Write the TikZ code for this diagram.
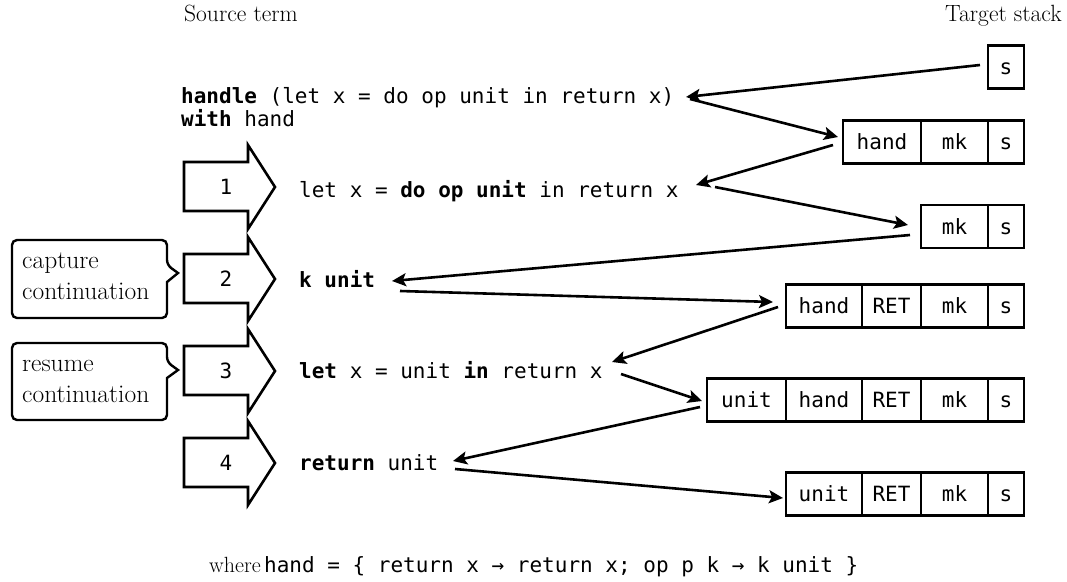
\documentclass[tikz,border=0pt]{standalone}
\usepackage{fontspec}
\setmonofont{DejaVu Sans Mono}
\usetikzlibrary{arrows.meta,calc}
\begin{document}
\begin{tikzpicture}[x=1pt,y=-1pt,
  mono/.style={font=\fontsize{21}{24}\selectfont\ttfamily},
  serif/.style={font=\fontsize{25.5}{30}\selectfont\rmfamily},
  head/.style={font=\fontsize{23.5}{28}\selectfont\rmfamily},
  term/.style={mono,anchor=base west,inner sep=0pt},
  lbl/.style={serif,anchor=base west,inner sep=0pt},
  cell/.style={draw,line width=2.6pt,minimum height=43pt,inner sep=0pt,text height=15pt,text depth=0pt,mono},
  num/.style={inner sep=0pt,text height=15pt,text depth=0pt,mono},
  conn/.style={line width=2.6pt,-{Stealth[length=14pt,width=13pt,inset=3pt]}},
  blk/.style={draw,line width=2.6pt,line join=miter},
  callout/.style={draw,line width=2.4pt}
]
\useasboundingbox (0,0) rectangle (1067,581);

% headings
\node[head,anchor=base west,inner sep=0pt] (src) at (184,21) {Source term};
\node[head,anchor=base east,inner sep=0pt] (tgt) at (1062,21) {Target stack};

% source terms
\node[term] (t0) at (181,103) {\textbf{handle} (let x = do op unit in return x)};
\node[term] (t0b) at (181,126) {\textbf{with} hand};
\node[term] (t1) at (299,197) {let x = \textbf{do op unit} in return x};
\node[term] (t2) at (299,287) {\textbf{k unit}};
\node[term] (t3) at (299,378) {\textbf{let} x = unit \textbf{in} return x};
\node[term] (t4) at (299,470) {\textbf{return} unit};

% block arrows
\foreach \c/\n in {187/1,279/2,371/3,463/4}{
  \draw[blk] (184,\c-25) -- (248,\c-25) -- (248,\c-42) -- (275,\c) -- (248,\c+42) -- (248,\c+24) -- (184,\c+24) -- cycle;
  \node[num] (n\n) at (226,\c) {\n};
}

% callouts
\draw[callout] (12,279) [rounded corners=5pt] -- (12,240) -- (167,240) -- (167,265) [sharp corners] -- (178,273) -- (167,282) [rounded corners=5pt] -- (167,318) -- (12,318) -- (12,279);
\node[lbl] (cap1) at (22,268) {capture};
\node[lbl] (cap2) at (22,299) {continuation};
\draw[callout] (12,380) [rounded corners=5pt] -- (12,343) -- (167,343) -- (167,362) [sharp corners] -- (178,370) -- (167,378) [rounded corners=5pt] -- (167,420) -- (12,420) -- (12,380);
\node[lbl] (res1) at (22,371) {resume};
\node[lbl] (res2) at (22,402) {continuation};

% stacks
\node[cell,minimum width=36pt] (s0) at (1006,67) {s};

\node[cell,minimum width=78pt] (h1) at (882,142) {hand};
\node[cell,minimum width=67pt] (m1) at (954.5,142) {mk};
\node[cell,minimum width=36pt] (s1) at (1006,142) {s};

\node[cell,minimum width=67pt] (m2) at (954.5,226.5) {mk};
\node[cell,minimum width=36pt] (s2) at (1006,226.5) {s};

\node[cell,minimum width=76pt] (h3) at (824,306) {hand};
\node[cell,minimum width=59pt] (r3) at (891.5,306) {RET};
\node[cell,minimum width=67pt] (m3) at (954.5,306) {mk};
\node[cell,minimum width=36pt] (s3) at (1006,306) {s};

\node[cell,minimum width=79pt] (u4) at (746.5,400) {unit};
\node[cell,minimum width=76pt] (h4) at (824,400) {hand};
\node[cell,minimum width=59pt] (r4) at (891.5,400) {RET};
\node[cell,minimum width=67pt] (m4) at (954.5,400) {mk};
\node[cell,minimum width=36pt] (s4) at (1006,400) {s};

\node[cell,minimum width=76pt] (u5) at (824,494) {unit};
\node[cell,minimum width=59pt] (r5) at (891.5,494) {RET};
\node[cell,minimum width=67pt] (m5) at (954.5,494) {mk};
\node[cell,minimum width=36pt] (s5) at (1006,494) {s};

% connector end points
\coordinate (a0s) at (980,65);  \coordinate (a0e) at (686,97);
\coordinate (a1s) at (690,99);  \coordinate (a1e) at (838,137);
\coordinate (a2s) at (833,145); \coordinate (a2e) at (696,185);
\coordinate (a3s) at (715,187); \coordinate (a3e) at (908,225);
\coordinate (a4s) at (910,235); \coordinate (a4e) at (392,281);
\coordinate (a5s) at (400,291); \coordinate (a5e) at (773,302);
\coordinate (a6s) at (778,307); \coordinate (a6e) at (612,362);
\coordinate (a7s) at (621,374); \coordinate (a7e) at (702,401);
\coordinate (a8s) at (700,407); \coordinate (a8e) at (453,461);
\coordinate (a9s) at (455,469); \coordinate (a9e) at (783,498);
\foreach \i in {0,...,9}{ \draw[conn] (a\i s) -- (a\i e); }

% footer
\node[anchor=base west,inner sep=0pt] (foot) at (209,572) {{\fontsize{22}{26}\selectfont\rmfamily where} {\fontsize{21}{24}\selectfont\ttfamily hand = \{ return x → return x; op p k → k unit \}}};
\end{tikzpicture}
\end{document}
